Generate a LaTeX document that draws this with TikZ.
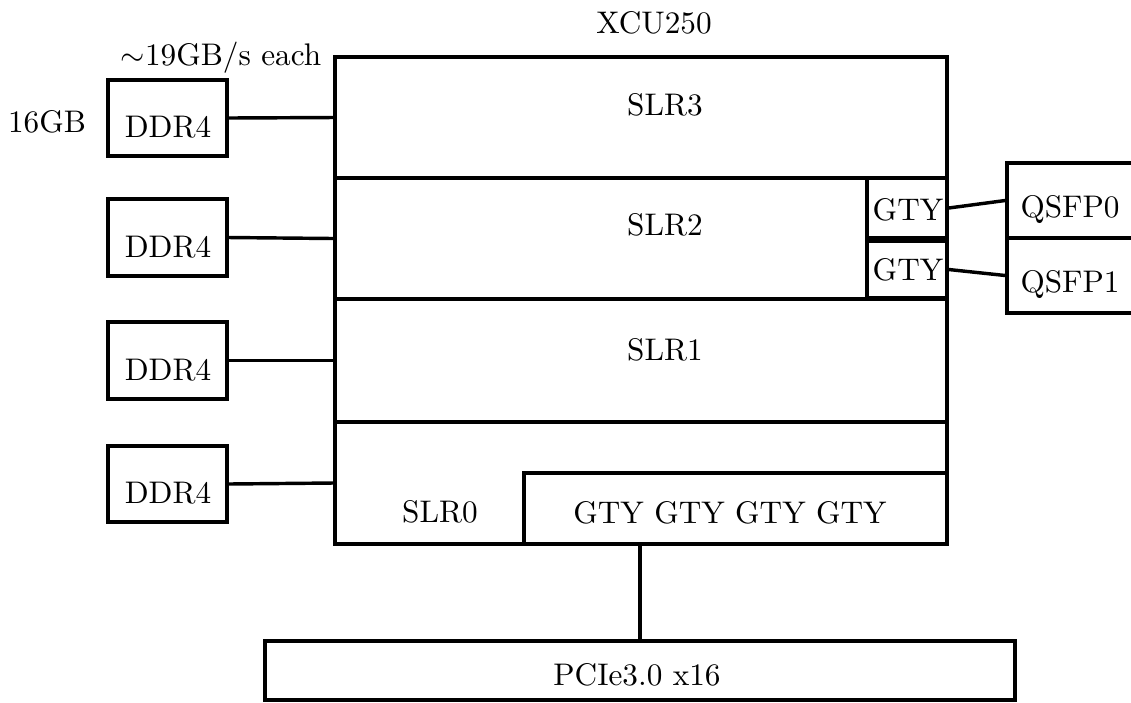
\documentclass[tikz,border=0pt]{standalone}
\usetikzlibrary{fit}
\begin{document}
\begin{tikzpicture}[x=0.32pt,y=-0.32pt,
  box/.style={draw, line width=1.1pt, inner sep=0pt, rectangle},
  wire/.style={line width=1.1pt},
  lbl/.style={anchor=base, inner sep=0pt, font=\normalsize}]
\useasboundingbox (0,0) rectangle (1131,702);
% FPGA regions
\node[box, fit={(335,57)(947,178)}] (slr3) {};
\node[box, fit={(335,178)(947,299)}] (slr2) {};
\node[box, fit={(335,299)(947,422)}] (slr1) {};
\node[box, fit={(335,422)(947,544)}] (slr0) {};
\node[box, fit={(867,178)(947,238)}] (gtya) {};
\node[box, fit={(867,241)(947,298)}] (gtyb) {};
\node[box, fit={(524,473)(947,544)}] (gtyq) {};
% external
\node[box, fit={(1007,163)(1134,238)}] (qsfp0) {};
\node[box, fit={(1007,238)(1134,313)}] (qsfp1) {};
\node[box, fit={(108,80)(227,156)}] (ddr3) {};
\node[box, fit={(108,199)(227,276)}] (ddr2) {};
\node[box, fit={(108,322)(227,399)}] (ddr1) {};
\node[box, fit={(108,446)(227,522)}] (ddr0) {};
\node[box, fit={(265,641)(1015,700)}] (pcie) {};
% connectors
\draw[wire] (ddr3.east) -- (slr3.west);
\draw[wire] (ddr2.east) -- (slr2.west);
\draw[wire] (ddr1.east) -- (slr1.west);
\draw[wire] (ddr0.east) -- (slr0.west);
\draw[wire] (gtya.east) -- (qsfp0.west);
\draw[wire] (gtyb.east) -- (qsfp1.west);
\draw[wire] (pcie.north) -- (pcie.north |- gtyq.south);
% labels
\node[lbl] (tx) at (654,33) {XCU250};
\node[lbl] (t3) at (665,115) {SLR3};
\node[lbl] (t2) at (665,235) {SLR2};
\node[lbl] (t1) at (665,360) {SLR1};
\node[lbl] (t0) at (440,522) {SLR0};
\node[lbl] (tq) at (730,523) {GTY GTY GTY GTY};
\node[lbl] (tga) at (908,220) {GTY};
\node[lbl] (tgb) at (908,280) {GTY};
\node[lbl] (tq0) at (1070,217) {QSFP0};
\node[lbl] (tq1) at (1070,292) {QSFP1};
\node[lbl] (td3) at (168,137) {DDR4};
\node[lbl] (td2) at (168,257) {DDR4};
\node[lbl] (td1) at (168,380) {DDR4};
\node[lbl] (td0) at (168,503) {DDR4};
\node[lbl] (tp) at (637,685) {PCIe3.0 x16};
\node[lbl] (tbw) at (221,65) {$\sim$19GB/s each};
\node[lbl] (tcap) at (47,132) {16GB};
\end{tikzpicture}
\end{document}
